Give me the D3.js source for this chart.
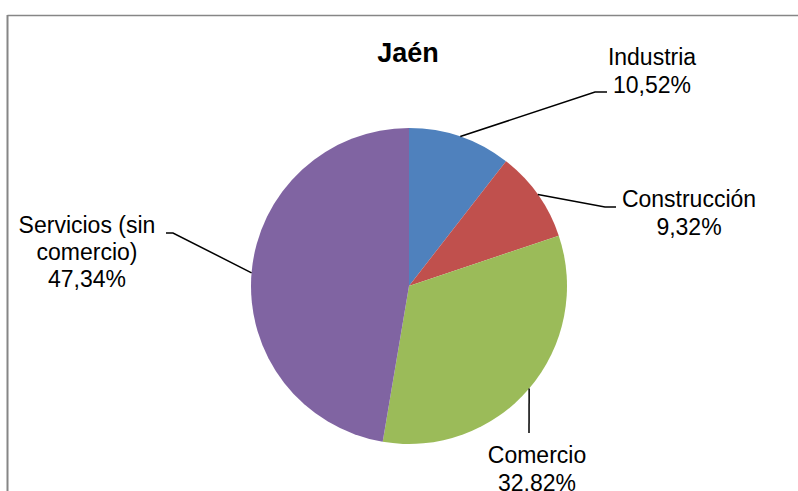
<!DOCTYPE html>
<html>
<head>
<meta charset="utf-8">
<script src="https://cdn.jsdelivr.net/npm/d3@7"></script>
<style>
    html, body { margin: 0; padding: 0; background: #fff; }
    svg text { font-family: Arial, "Liberation Sans", sans-serif; fill: #000; }
</style>
</head>
<body>
<div id="chart"></div>
<script>
(function () {
    "use strict";

    const title = "Jaén";
    const categories = ["Industria", "Construcción", "Comercio", "Servicios (sin comercio)"];
    const values = [10.52, 9.32, 32.82, 47.34];
    const labelLines = [
        ["Industria", "10,52%"],
        ["Construcción", "9,32%"],
        ["Comercio", "32,82%"],
        ["Servicios (sin", "comercio)", "47,34%"]
    ];
    const colors = ["#4f81bd", "#c0504d", "#9bbb59", "#8064a2"];

    const width = 798;
    const height = 491;
    const cx = 409;
    const cy = 286;
    const radius = 158;

    // label placement: text anchor point and the leader elbow, per slice
    const labelLayout = [
        { x: 652, y: 65, elbow: [595, 92], end: [607, 92] },
        { x: 689, y: 207, elbow: [605, 207], end: [616, 207] },
        { x: 537, y: 463, elbow: null, end: [529, 433] },
        { x: 87, y: 233, elbow: [173, 233], end: [166, 233] }
    ];

    const svg = d3.select("#chart").append("svg")
        .attr("width", width)
        .attr("height", height);

    // frame
    svg.append("line")
        .attr("x1", 7.5).attr("x2", width)
        .attr("y1", 15.5).attr("y2", 15.5)
        .attr("stroke", "#868686").attr("stroke-width", 1.5);
    svg.append("line")
        .attr("x1", 7.5).attr("x2", 7.5)
        .attr("y1", 15).attr("y2", height)
        .attr("stroke", "#868686").attr("stroke-width", 2);

    svg.append("text")
        .attr("x", 408)
        .attr("y", 62)
        .attr("text-anchor", "middle")
        .attr("font-weight", "bold")
        .attr("font-size", 27)
        .text(title);

    const pie = d3.pie().sort(null).value(d => d);
    const arcs = pie(values);

    const arc = d3.arc().innerRadius(0).outerRadius(radius);
    const edgeArc = d3.arc().innerRadius(radius).outerRadius(radius);

    const g = svg.append("g").attr("transform", `translate(${cx},${cy})`);

    g.selectAll("path")
        .data(arcs)
        .join("path")
        .attr("d", arc)
        .attr("fill", (d, i) => colors[i])
        .append("title")
        .text((d, i) => categories[i]);

    // leader lines
    arcs.forEach((d, i) => {
        const p = edgeArc.centroid(d);
        const start = [cx + p[0], cy + p[1]];
        const lay = labelLayout[i];
        const pts = [start];
        if (lay.elbow) pts.push(lay.elbow);
        pts.push(lay.end);
        svg.append("path")
            .attr("d", d3.line()(pts))
            .attr("fill", "none")
            .attr("stroke", "#000")
            .attr("stroke-width", 1.5);

        const t = svg.append("text")
            .attr("text-anchor", "middle")
            .attr("font-size", 23);
        labelLines[i].forEach((line, k) => {
            t.append("tspan")
                .attr("x", lay.x)
                .attr("y", lay.y + k * (i === 3 ? 27 : 28))
                .text(line);
        });
    });
}());
</script>
</body>
</html>
